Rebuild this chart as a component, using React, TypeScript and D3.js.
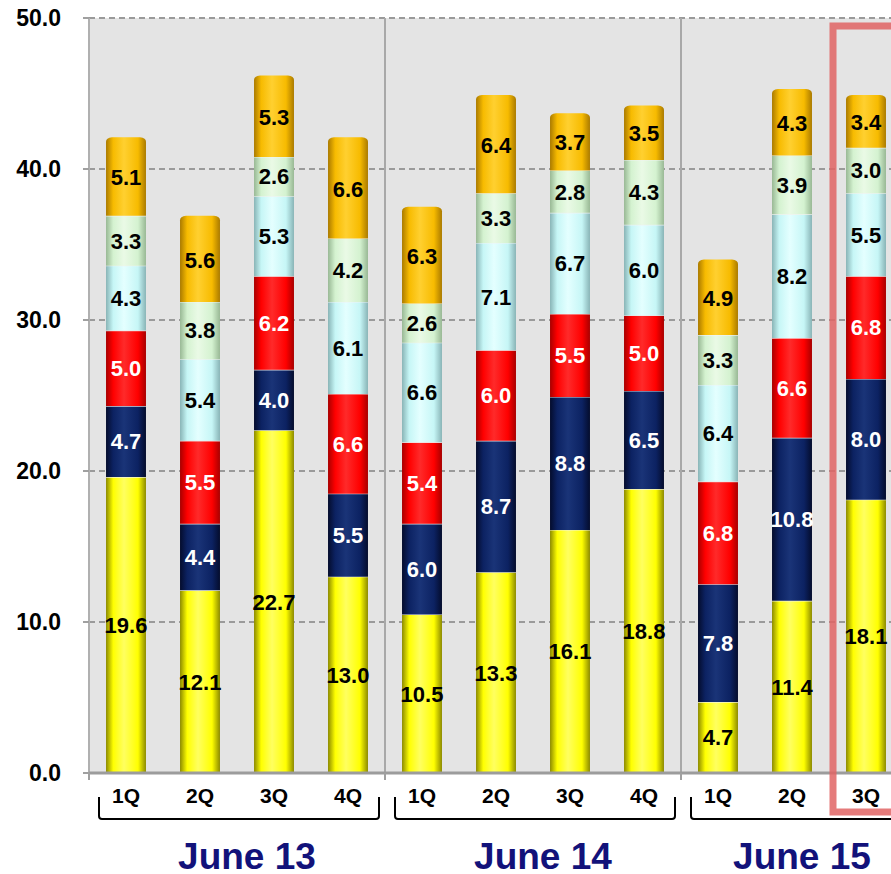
import React from "react";
import * as d3 from "d3";

const quarters = ["1Q", "2Q", "3Q", "4Q", "1Q", "2Q", "3Q", "4Q", "1Q", "2Q", "3Q"];
const groupNames = ["June 13", "June 14", "June 15"];
const groupIndex = [0, 0, 0, 0, 1, 1, 1, 1, 2, 2, 2];

const yellowVals = [19.6, 12.1, 22.7, 13.0, 10.5, 13.3, 16.1, 18.8, 4.7, 11.4, 18.1];
const navyVals = [4.7, 4.4, 4.0, 5.5, 6.0, 8.7, 8.8, 6.5, 7.8, 10.8, 8.0];
const redVals = [5.0, 5.5, 6.2, 6.6, 5.4, 6.0, 5.5, 5.0, 6.8, 6.6, 6.8];
const cyanVals = [4.3, 5.4, 5.3, 6.1, 6.6, 7.1, 6.7, 6.0, 6.4, 8.2, 5.5];
const greenVals = [3.3, 3.8, 2.6, 4.2, 2.6, 3.3, 2.8, 4.3, 3.3, 3.9, 3.0];
const orangeVals = [5.1, 5.6, 5.3, 6.6, 6.3, 6.4, 3.7, 3.5, 4.9, 4.3, 3.4];

const yTicks = [0, 10, 20, 30, 40, 50];
const highlightIndex = 10;

const seriesList = [
  { key: "yellow", values: yellowVals, base: "#ffff00", light: "#ffff60", dark: "#8c8a00", text: "#000" },
  { key: "navy", values: navyVals, base: "#0c2262", light: "#1a3478", dark: "#040c2c", text: "#fff" },
  { key: "red", values: redVals, base: "#ff0000", light: "#ff2a2a", dark: "#a80000", text: "#fff" },
  { key: "cyan", values: cyanVals, base: "#c6f6f6", light: "#e4ffff", dark: "#88b4b6", text: "#000" },
  { key: "green", values: greenVals, base: "#d4f2d0", light: "#eafae6", dark: "#98b894", text: "#000" },
  { key: "orange", values: orangeVals, base: "#f7bb00", light: "#ffd030", dark: "#aa7a00", text: "#000" },
];

const W = 891;
const H = 874;
const FONT = "'Liberation Sans', Arial, sans-serif";

export default function App() {
  const idx = quarters.map((_, i) => i);
  const x = d3
    .scaleBand<number>()
    .domain(idx)
    .range([89, 89 + 11 * 74])
    .paddingInner(0.46)
    .paddingOuter(0.23);
  const y = d3.scaleLinear().domain([0, 50]).range([773, 18]);
  const step = x.step();
  const bw = x.bandwidth();
  const halfGap = (step - bw) / 2;
  const plotLeft = 89;
  const plotRight = W + 20;

  const stacks = d3.stack<number>().keys(seriesList.map((s) => s.key)).value((i, key) => {
    const s = seriesList.find((q) => q.key === key)!;
    return s.values[i];
  })(idx);

  const groupStarts = [0, 4, 8];
  const groupEnds = [3, 7, 10];

  return (
    <div style={{ position: "fixed", left: 0, top: 0 }}>
      <svg width={W} height={H} style={{ display: "block", background: "#fff" }} fontFamily={FONT}>
        <defs>
          {seriesList.map((s) => (
            <linearGradient key={s.key} id={"g-" + s.key} x1="0" x2="1" y1="0" y2="0">
              <stop offset="0" stopColor={s.dark} />
              <stop offset="0.18" stopColor={s.base} />
              <stop offset="0.45" stopColor={s.light} />
              <stop offset="0.8" stopColor={s.base} />
              <stop offset="1" stopColor={s.dark} />
            </linearGradient>
          ))}
        </defs>

        {/* plot background */}
        <rect x={plotLeft} y={y(50)} width={plotRight - plotLeft} height={y(0) - y(50)} fill="#e4e4e4" />

        {/* gridlines */}
        {yTicks.filter((t) => t > 0).map((t) => (
          <line key={t} x1={plotLeft} x2={plotRight} y1={y(t)} y2={y(t)} stroke="#9a9a9a" strokeWidth={2} strokeDasharray="6,4" />
        ))}

        {/* group separators */}
        {groupStarts.slice(1).map((g) => (
          <line key={g} x1={x(g)! - halfGap} x2={x(g)! - halfGap} y1={y(50)} y2={y(0) + 6} stroke="#a8a8a8" strokeWidth={2} />
        ))}

        {/* left axis */}
        <line x1={plotLeft} x2={plotLeft} y1={y(50)} y2={y(0)} stroke="#b0b0b0" strokeWidth={2} />
        {yTicks.map((t) => (
          <g key={t}>
            <line x1={plotLeft - 6} x2={plotLeft} y1={y(t)} y2={y(t)} stroke="#a0a0a0" strokeWidth={2} />
            <text x={61} y={y(t)} dy="0.36em" textAnchor="end" fontSize={23} fontWeight="bold" fill="#000">
              {t.toFixed(1)}
            </text>
          </g>
        ))}

        {/* bars */}
        {idx.map((i) => {
          const x0 = x(i)!;
          return (
            <g key={i}>
              {stacks.map((layer, li) => {
                const s = seriesList[li];
                const [v0, v1] = layer[i];
                const yTop = y(v1);
                const yBot = y(v0);
                const isTop = li === stacks.length - 1;
                let d: string;
                if (isTop) {
                  const r = 6;
                  d = `M${x0},${yBot} L${x0},${yTop + 3} Q${x0},${yTop - 1} ${x0 + r},${yTop - 1.5} L${x0 + bw - r},${yTop - 1.5} Q${x0 + bw},${yTop - 1} ${x0 + bw},${yTop + 3} L${x0 + bw},${yBot} Z`;
                } else {
                  d = `M${x0},${yBot} L${x0},${yTop} L${x0 + bw},${yTop} L${x0 + bw},${yBot} Z`;
                }
                return (
                  <g key={s.key}>
                    <path d={d} fill={`url(#g-${s.key})`} />
                    {!isTop && <line x1={x0} x2={x0 + bw} y1={yTop} y2={yTop} stroke="#f4f4f4" strokeWidth={1.2} opacity={0.85} />}
                    <text
                      x={x0 + bw / 2}
                      y={(yTop + yBot) / 2}
                      dy="0.36em"
                      textAnchor="middle"
                      fontSize={22}
                      fontWeight="bold"
                      fill={s.text}
                    >
                      {s.values[i].toFixed(1)}
                    </text>
                  </g>
                );
              })}
            </g>
          );
        })}

        {/* bottom axis */}
        <line x1={plotLeft} x2={plotRight} y1={y(0)} y2={y(0)} stroke="#9c9c9c" strokeWidth={3} />
        {groupStarts.map((g) => (
          <line key={g} x1={x(g)! - halfGap} x2={x(g)! - halfGap} y1={y(0)} y2={y(0) + 7} stroke="#a0a0a0" strokeWidth={2} />
        ))}

        {/* quarter labels */}
        {idx.map((i) => (
          <text key={i} x={x(i)! + bw / 2} y={795} dy="0.36em" textAnchor="middle" fontSize={21} fontWeight="bold" fill="#000">
            {quarters[i]}
          </text>
        ))}

        {/* brackets and group labels */}
        {groupNames.map((name, gi) => {
          const left = x(groupStarts[gi])! - halfGap + 10;
          const right = gi < 2 ? x(groupEnds[gi])! + bw + halfGap - 6 : W + 30;
          const top = 797;
          const bot = 819;
          const members = idx.filter((i) => groupIndex[i] === gi);
          const cx = d3.mean(members, (i) => x(i)! + bw / 2)! + 10;
          return (
            <g key={name}>
              <path
                d={`M${left},${top} L${left},${bot - 3} Q${left},${bot} ${left + 3},${bot} L${right - 3},${bot} Q${right},${bot} ${right},${bot - 3} L${right},${top}`}
                fill="none"
                stroke="#000"
                strokeWidth={2}
              />
              <text x={cx} y={869} textAnchor="middle" fontSize={37} fontWeight="bold" fill="#12127a">
                {name}
              </text>
            </g>
          );
        })}

        {/* highlight */}
        <rect
          x={x(highlightIndex)! - halfGap + 4}
          y={26}
          width={120}
          height={786}
          fill="none"
          stroke="#e06464"
          strokeOpacity={0.85}
          strokeWidth={7}
        />
      </svg>
    </div>
  );
}
